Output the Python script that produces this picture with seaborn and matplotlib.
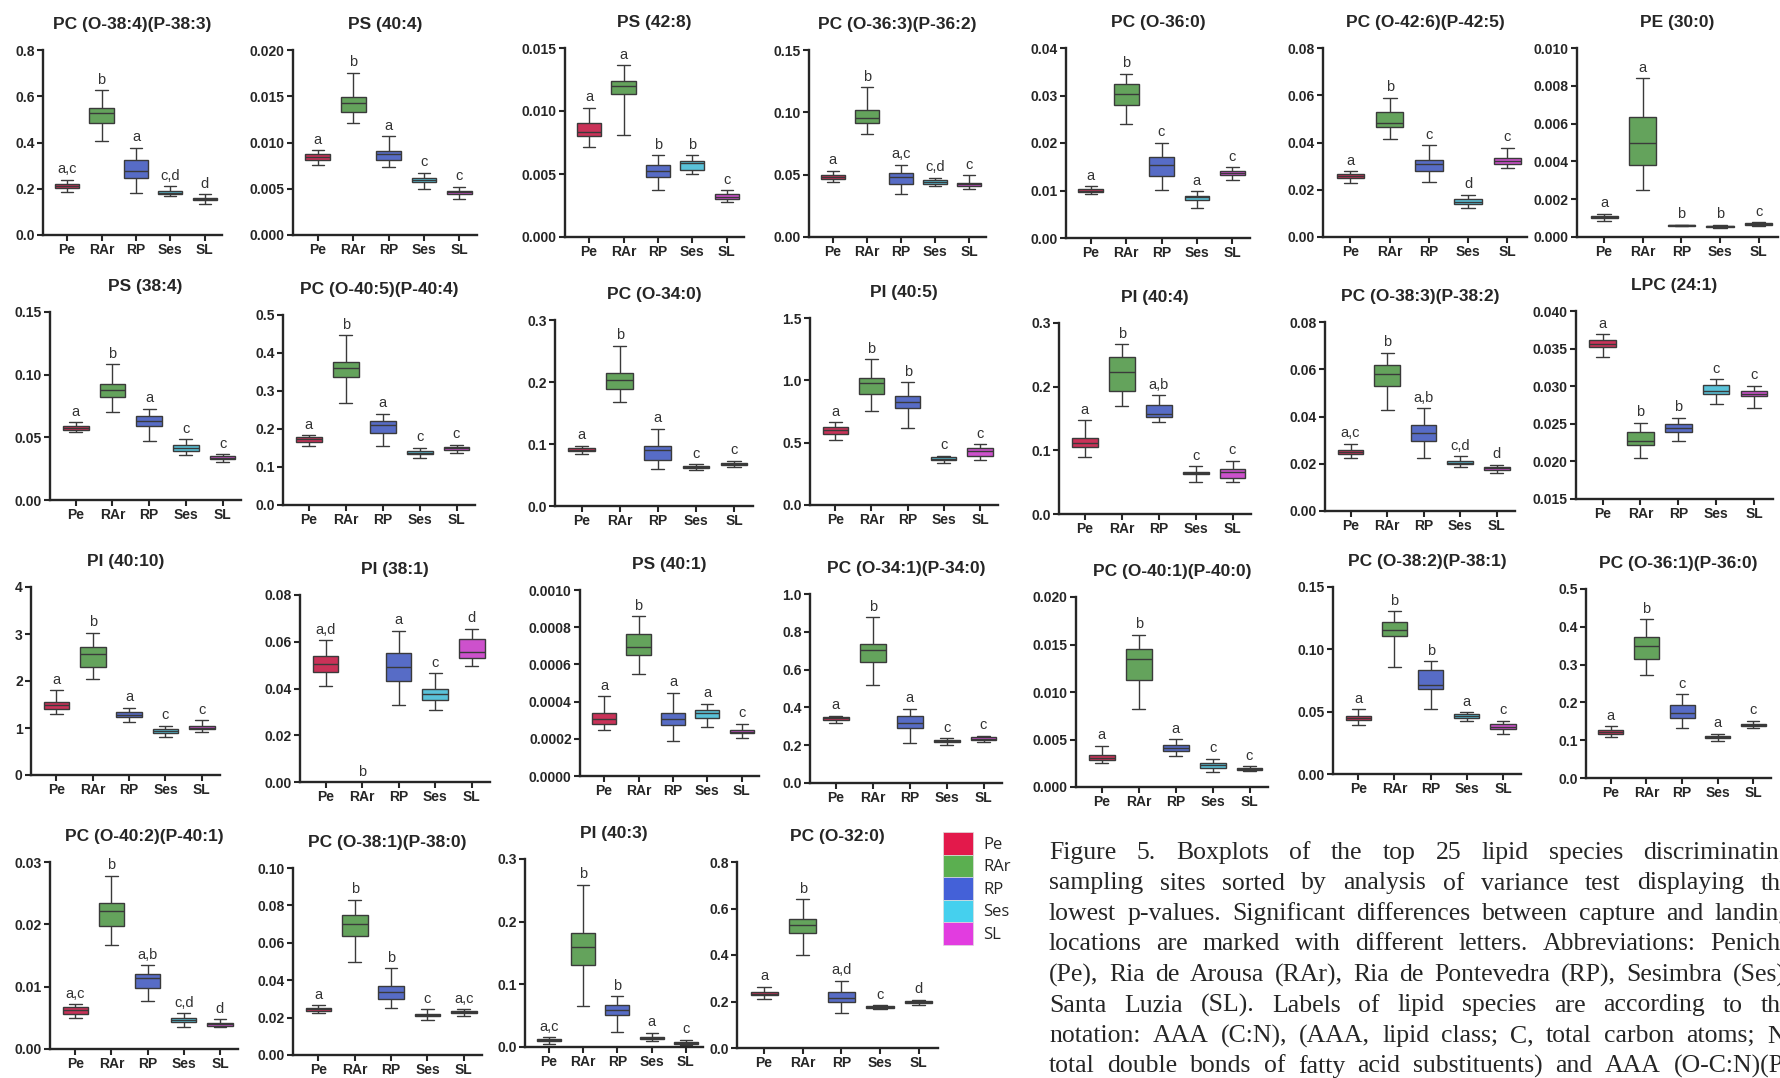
import numpy as np
import pandas as pd
import matplotlib.pyplot as plt
import seaborn as sns
from matplotlib.patches import Patch

nan = np.nan

sites = ['Pe', 'RAr', 'RP', 'Ses', 'SL']
site_colors = ['#E3194B', '#5BAF50', '#4461D8', '#45D0EE', '#E23CE0']

titles = ['PC (O-38:4)(P-38:3)', 'PS (40:4)', 'PS (42:8)', 'PC (O-36:3)(P-36:2)',
          'PC (O-36:0)', 'PC (O-42:6)(P-42:5)', 'PE (30:0)',
          'PS (38:4)', 'PC (O-40:5)(P-40:4)', 'PC (O-34:0)', 'PI (40:5)',
          'PI (40:4)', 'PC (O-38:3)(P-38:2)', 'LPC (24:1)',
          'PI (40:10)', 'PI (38:1)', 'PS (40:1)', 'PC (O-34:1)(P-34:0)',
          'PC (O-40:1)(P-40:0)', 'PC (O-38:2)(P-38:1)', 'PC (O-36:1)(P-36:0)',
          'PC (O-40:2)(P-40:1)', 'PC (O-38:1)(P-38:0)', 'PI (40:3)', 'PC (O-32:0)']

# five-number summaries (order Pe, RAr, RP, Ses, SL)
whis_lo = [
    [0.187, 0.406, 0.180, 0.170, 0.134],
    [0.00757, 0.01207, 0.00739, 0.00497, 0.00393],
    [0.00714, 0.0081, 0.00374, 0.00499, 0.00279],
    [0.0439, 0.0828, 0.0348, 0.0407, 0.0383],
    [0.00933, 0.0239, 0.0102, 0.00632, 0.01221],
    [0.0229, 0.0415, 0.0231, 0.0123, 0.0291],
    [0.00083, 0.00248, 0.00057, 0.00048, 0.00057],
    [0.0544, 0.0701, 0.0473, 0.0361, 0.030],
    [0.154, 0.268, 0.156, 0.123, 0.138],
    [0.0846, 0.167, 0.0603, 0.0587, 0.0636],
    [0.522, 0.758, 0.616, 0.338, 0.364],
    [0.0895, 0.169, 0.1445, 0.0508, 0.0503],
    [0.0226, 0.0428, 0.0226, 0.0188, 0.016],
    [0.03384, 0.0204, 0.02276, 0.02759, 0.02706],
    [1.303, 2.039, 1.119, 0.80, 0.92],
    [0.0409, nan, 0.033, 0.0306, 0.0497],
    [0.00025, 0.00055, 0.000189, 0.000264, 0.000204],
    [0.317, 0.52, 0.21, 0.203, 0.215],
    [0.00256, 0.00818, 0.00323, 0.00158, 0.00165],
    [0.0394, 0.086, 0.0522, 0.0429, 0.032],
    [0.109, 0.272, 0.133, 0.099, 0.131],
    [0.00496, 0.01663, 0.00773, 0.00352, 0.00352],
    [0.0226, 0.0495, 0.0249, 0.0187, 0.021],
    [0.0053, 0.0657, 0.024, 0.0091, 0.0027],
    [0.211, 0.399, 0.15, 0.169, 0.186],
]
q1 = [
    [0.205, 0.486, 0.245, 0.177, 0.150],
    [0.00811, 0.0133, 0.00811, 0.00573, 0.00447],
    [0.00805, 0.01136, 0.00478, 0.00531, 0.00303],
    [0.0466, 0.0911, 0.0429, 0.0423, 0.0407],
    [0.00961, 0.0281, 0.0130, 0.00807, 0.01333],
    [0.0251, 0.0466, 0.0278, 0.0140, 0.0309],
    [0.00098, 0.00379, 0.0006, 0.00053, 0.00066],
    [0.056, 0.082, 0.0589, 0.0393, 0.0329],
    [0.167, 0.337, 0.189, 0.133, 0.145],
    [0.0883, 0.188, 0.0738, 0.0614, 0.0668],
    [0.568, 0.892, 0.777, 0.359, 0.396],
    [0.1047, 0.1937, 0.1518, 0.0628, 0.0565],
    [0.0242, 0.0531, 0.0298, 0.0198, 0.0172],
    [0.03521, 0.02214, 0.02395, 0.02896, 0.02865],
    [1.402, 2.301, 1.225, 0.899, 0.97],
    [0.047, nan, 0.043, 0.0352, 0.0532],
    [0.000282, 0.000648, 0.000273, 0.000313, 0.000229],
    [0.335, 0.638, 0.291, 0.217, 0.226],
    [0.00281, 0.01123, 0.00375, 0.002, 0.00179],
    [0.0432, 0.1106, 0.0682, 0.0453, 0.0362],
    [0.117, 0.316, 0.160, 0.105, 0.137],
    [0.0056, 0.01972, 0.00975, 0.00437, 0.00373],
    [0.0237, 0.0639, 0.0302, 0.0208, 0.0222],
    [0.0096, 0.1308, 0.0518, 0.0128, 0.0048],
    [0.227, 0.493, 0.196, 0.173, 0.193],
]
med = [
    [0.212, 0.526, 0.277, 0.183, 0.154],
    [0.0084, 0.01423, 0.00876, 0.00595, 0.00461],
    [0.00836, 0.0120, 0.0052, 0.00589, 0.00321],
    [0.0482, 0.0956, 0.0482, 0.0445, 0.0423],
    [0.00996, 0.0303, 0.0154, 0.00856, 0.01375],
    [0.0259, 0.0483, 0.0310, 0.0150, 0.0320],
    [0.00105, 0.00495, 0.00062, 0.00057, 0.00071],
    [0.0576, 0.0876, 0.0632, 0.0417, 0.0337],
    [0.174, 0.361, 0.210, 0.136, 0.150],
    [0.091, 0.2025, 0.091, 0.063, 0.0684],
    [0.603, 0.978, 0.825, 0.372, 0.434],
    [0.1115, 0.223, 0.1576, 0.0644, 0.066],
    [0.0249, 0.0582, 0.0332, 0.0205, 0.018],
    [0.03566, 0.02276, 0.02444, 0.02936, 0.029],
    [1.487, 2.584, 1.281, 0.942, 1.005],
    [0.0505, nan, 0.049, 0.0376, 0.0558],
    [0.000309, 0.000696, 0.000309, 0.000341, 0.000238],
    [0.344, 0.705, 0.317, 0.222, 0.235],
    [0.00309, 0.01351, 0.00414, 0.00228, 0.00189],
    [0.0448, 0.1154, 0.0714, 0.0466, 0.0381],
    [0.122, 0.349, 0.173, 0.108, 0.140],
    [0.00618, 0.02211, 0.01135, 0.00469, 0.00394],
    [0.0244, 0.0698, 0.0338, 0.0214, 0.0228],
    [0.0112, 0.1601, 0.0587, 0.0144, 0.0064],
    [0.233, 0.527, 0.214, 0.176, 0.197],
]
q3 = [
    [0.219, 0.548, 0.324, 0.189, 0.160],
    [0.00872, 0.01488, 0.00908, 0.0062, 0.00476],
    [0.00908, 0.01242, 0.00573, 0.00605, 0.0034],
    [0.0498, 0.1018, 0.0514, 0.0455, 0.0434],
    [0.01032, 0.0324, 0.0170, 0.00891, 0.0141],
    [0.0268, 0.0529, 0.0325, 0.0161, 0.0334],
    [0.0011, 0.00633, 0.00064, 0.0006, 0.00074],
    [0.0592, 0.0924, 0.0674, 0.0438, 0.0348],
    [0.180, 0.377, 0.222, 0.141, 0.153],
    [0.0937, 0.2149, 0.0964, 0.0646, 0.070],
    [0.624, 1.018, 0.876, 0.383, 0.461],
    [0.1194, 0.247, 0.1707, 0.066, 0.0707],
    [0.0257, 0.0619, 0.0362, 0.0212, 0.0185],
    [0.0361, 0.02387, 0.02493, 0.03011, 0.02936],
    [1.543, 2.726, 1.331, 0.977, 1.048],
    [0.0541, nan, 0.0551, 0.0396, 0.0611],
    [0.000339, 0.000761, 0.000339, 0.000354, 0.000246],
    [0.349, 0.737, 0.353, 0.229, 0.242],
    [0.00333, 0.01449, 0.00446, 0.00253, 0.002],
    [0.0466, 0.122, 0.0834, 0.048, 0.040],
    [0.126, 0.372, 0.193, 0.110, 0.144],
    [0.00671, 0.0235, 0.01204, 0.00496, 0.00416],
    [0.0249, 0.0747, 0.037, 0.0219, 0.0235],
    [0.0128, 0.1815, 0.0678, 0.016, 0.008],
    [0.239, 0.553, 0.240, 0.179, 0.201],
]
whis_hi = [
    [0.238, 0.627, 0.378, 0.212, 0.177],
    [0.00919, 0.01755, 0.0107, 0.00674, 0.00523],
    [0.01027, 0.01362, 0.0065, 0.0065, 0.00372],
    [0.0530, 0.1200, 0.0581, 0.0477, 0.0496],
    [0.01088, 0.0346, 0.0201, 0.00982, 0.01495],
    [0.0278, 0.0590, 0.0389, 0.0179, 0.0378],
    [0.00122, 0.0084, 0.00066, 0.00066, 0.00078],
    [0.0619, 0.1083, 0.073, 0.0486, 0.0364],
    [0.183, 0.447, 0.240, 0.151, 0.158],
    [0.097, 0.2585, 0.125, 0.0673, 0.0727],
    [0.664, 1.171, 0.983, 0.396, 0.488],
    [0.1476, 0.267, 0.1864, 0.0749, 0.0838],
    [0.0284, 0.0669, 0.0435, 0.0232, 0.0195],
    [0.03694, 0.02515, 0.02582, 0.03091, 0.03007],
    [1.798, 3.03, 1.43, 1.048, 1.161],
    [0.0606, nan, 0.0648, 0.0465, 0.0655],
    [0.000429, 0.000859, 0.000447, 0.000389, 0.000282],
    [0.356, 0.877, 0.392, 0.238, 0.250],
    [0.00432, 0.01604, 0.00502, 0.00298, 0.00218],
    [0.052, 0.1305, 0.0906, 0.0496, 0.0426],
    [0.137, 0.42, 0.221, 0.117, 0.152],
    [0.00719, 0.02776, 0.01348, 0.00575, 0.0048],
    [0.0267, 0.0831, 0.0463, 0.0246, 0.0246],
    [0.016, 0.2589, 0.0811, 0.0224, 0.0117],
    [0.264, 0.639, 0.289, 0.183, 0.207],
]

letters = [
    ['a,c', 'b', 'a', 'c,d', 'd'], ['a', 'b', 'a', 'c', 'c'], ['a', 'a', 'b', 'b', 'c'],
    ['a', 'b', 'a,c', 'c,d', 'c'], ['a', 'b', 'c', 'a', 'c'], ['a', 'b', 'c', 'd', 'c'],
    ['a', 'a', 'b', 'b', 'c'],
    ['a', 'b', 'a', 'c', 'c'], ['a', 'b', 'a', 'c', 'c'], ['a', 'b', 'a', 'c', 'c'],
    ['a', 'b', 'b', 'c', 'c'], ['a', 'b', 'a,b', 'c', 'c'], ['a,c', 'b', 'a,b', 'c,d', 'd'],
    ['a', 'b', 'b', 'c', 'c'],
    ['a', 'b', 'a', 'c', 'c'], ['a,d', 'b', 'a', 'c', 'd'], ['a', 'b', 'a', 'a', 'c'],
    ['a', 'b', 'a', 'c', 'c'], ['a', 'b', 'a', 'c', 'c'], ['a', 'b', 'b', 'a', 'c'],
    ['a', 'b', 'c', 'a', 'c'],
    ['a,c', 'b', 'a,b', 'c,d', 'd'], ['a', 'b', 'b', 'c', 'a,c'], ['a,c', 'b', 'b', 'a', 'c'],
    ['a', 'b', 'a,d', 'c', 'd'],
]

y_bottom = [0, 0, 0, 0, 0, 0, 0, 0, 0, 0, 0, 0, 0, 0.015, 0, 0, 0, 0, 0, 0, 0, 0, 0, 0, 0]
y_top = [0.8, 0.020, 0.015, 0.15, 0.04, 0.08, 0.010, 0.15, 0.5, 0.3, 1.5, 0.3, 0.08, 0.040,
         4, 0.08, 0.0010, 1.0, 0.020, 0.15, 0.5, 0.03, 0.10, 0.3, 0.8]
y_step = [0.2, 0.005, 0.005, 0.05, 0.01, 0.02, 0.002, 0.05, 0.1, 0.1, 0.5, 0.1, 0.02, 0.005,
          1, 0.02, 0.0002, 0.2, 0.005, 0.05, 0.1, 0.01, 0.02, 0.1, 0.2]
y_dec = [1, 3, 3, 2, 2, 2, 3, 2, 1, 1, 1, 1, 2, 3, 0, 2, 4, 1, 3, 2, 1, 2, 2, 1, 1]

caption = [
    'Figure 5. Boxplots of the top 25 lipid species discriminating',
    'sampling sites sorted by analysis of variance test displaying the',
    'lowest p-values. Significant differences between capture and landing',
    'locations are marked with different letters. Abbreviations: Peniche',
    '(Pe), Ria de Arousa (RAr), Ria de Pontevedra (RP), Sesimbra (Ses),',
    'Santa Luzia (SL). Labels of lipid species are according to the',
    'notation: AAA (C:N), (AAA, lipid class; C, total carbon atoms; N,',
    'total double bonds of fatty acid substituents) and AAA (O-C:N)(P-',
]

# layout: axes rectangles in pixels (left, top, right, bottom)
W, H = 1780, 1078
panel_px = [
    (43, 50, 222, 235), (293, 50, 477, 235), (565, 48, 744, 237), (809, 50, 986, 237),
    (1066, 48, 1250, 238), (1323, 48, 1527, 237), (1577, 48, 1778, 237),
    (50, 312, 241, 500), (283, 315, 475, 505), (555, 320, 753, 506), (810, 318, 998, 505),
    (1059, 323, 1251, 514), (1325, 322, 1515, 511), (1576, 311, 1773, 499),
    (31, 587, 220, 775), (300, 595, 490, 782), (580, 590, 759, 776), (810, 594, 1002, 783),
    (1076, 597, 1268, 787), (1333, 587, 1521, 774), (1586, 589, 1771, 778),
    (50, 862, 238, 1049), (293, 868, 482, 1055), (525, 859, 703, 1047), (737, 862, 938, 1048),
]

sns.set_style('ticks')
plt.rcParams['font.family'] = ['Liberation Sans', 'DejaVu Sans']

fig = plt.figure(figsize=(W / 100, H / 100), dpi=100)

for k, title in enumerate(titles):
    l, t, r, b = panel_px[k]
    ax = fig.add_axes([l / W, 1 - b / H, (r - l) / W, (b - t) / H])

    rows = []
    for i, s in enumerate(sites):
        vals = [whis_lo[k][i], q1[k][i], med[k][i], q3[k][i], whis_hi[k][i]]
        if np.isnan(vals[0]):
            continue
        rows += [{'site': s, 'value': v} for v in vals]
    df = pd.DataFrame(rows)

    sns.boxplot(data=df, x='site', y='value', hue='site', order=sites, hue_order=sites,
                palette=site_colors, whis=(0, 100), width=0.7, linewidth=1,
                linecolor='#3a3a3a', showfliers=False, legend=False, ax=ax)

    ax.set_xlim(-0.7, 4.5)
    ax.set_ylim(y_bottom[k], y_top[k])
    n = int(round((y_top[k] - y_bottom[k]) / y_step[k])) + 1
    ticks = np.linspace(y_bottom[k], y_top[k], n)
    ax.set_yticks(ticks)
    ax.set_yticklabels([f'{v:.{y_dec[k]}f}' for v in ticks])
    ax.set_xlabel('')
    ax.set_ylabel('')
    ax.set_title(title, fontsize=12.5, fontweight='bold', pad=15)
    sns.despine(ax=ax)
    for sp in ('left', 'bottom'):
        ax.spines[sp].set_linewidth(1.7)
    ax.tick_params(width=1.5, length=4, labelsize=10, pad=2)
    for lab in ax.get_xticklabels() + ax.get_yticklabels():
        lab.set_fontweight('bold')

    for i, s in enumerate(sites):
        top = whis_hi[k][i]
        if np.isnan(top):
            top = y_bottom[k]
        ax.annotate(letters[k][i], (i, top), xytext=(0, 2.5), textcoords='offset points',
                    ha='center', va='bottom', fontsize=10.5, color='#333333')

# legend
handles = [Patch(facecolor=c, edgecolor='#dddddd', linewidth=0.5) for c in site_colors]
fig.legend(handles, sites, loc='upper left', bbox_to_anchor=(943 / W, 1 - 832 / H),
           frameon=False, borderpad=0, labelspacing=0, handlelength=1.8, handleheight=1.7,
           handletextpad=0.6, borderaxespad=0,
           prop={'family': 'Open Sans', 'size': 12})

# justified caption
renderer = fig.canvas.get_renderer()
x0, x1 = 1049, 1792
y0, dy = 853, 30.5
for j, line in enumerate(caption):
    words = line.split(' ')
    texts = [fig.text(0, 0, w, fontsize=18.5, family='Liberation Serif', va='center', ha='left')
             for w in words]
    widths = [tx.get_window_extent(renderer).width for tx in texts]
    gap = (x1 - x0 - sum(widths)) / (len(words) - 1)
    x = x0
    for tx, w in zip(texts, widths):
        tx.set_position((x / W, 1 - (y0 + j * dy) / H))
        x += w + gap

fig.savefig('out.png', dpi=100)
